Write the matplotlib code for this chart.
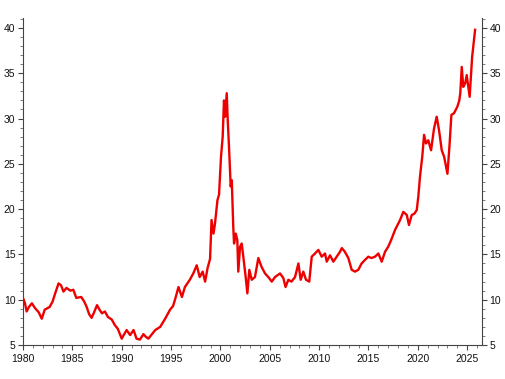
import matplotlib
matplotlib.use("Agg")
import matplotlib.pyplot as plt
from matplotlib.ticker import MultipleLocator

years = [1980.0, 1980.2, 1980.37, 1980.6, 1980.9, 1981.2, 1981.6, 1981.9, 1982.2, 1982.7,
         1983.0, 1983.2, 1983.6, 1983.85, 1984.1, 1984.4, 1984.8, 1985.1, 1985.4, 1985.9,
         1986.2, 1986.45, 1986.7, 1986.95, 1987.2, 1987.5, 1987.75, 1988.0, 1988.3, 1988.6,
         1989.0, 1989.3, 1989.6, 1990.0, 1990.2, 1990.5, 1990.85, 1991.2, 1991.5, 1991.85,
         1992.2, 1992.45, 1992.7, 1993.0, 1993.4, 1993.9, 1994.4, 1994.9, 1995.2, 1995.4,
         1995.75, 1996.1, 1996.4, 1996.9, 1997.25, 1997.6, 1997.9, 1998.2, 1998.45, 1998.7,
         1998.95, 1999.1, 1999.3, 1999.45, 1999.7, 1999.86, 2000.06, 2000.23, 2000.36, 2000.47,
         2000.64, 2000.74, 2000.87, 2001.04, 2001.15, 2001.3, 2001.38, 2001.55, 2001.71, 2001.81,
         2001.99, 2002.16, 2002.32, 2002.56, 2002.73, 2002.93, 2003.17, 2003.5, 2003.84, 2004.18,
         2004.52, 2004.85, 2005.2, 2005.53, 2006.04, 2006.37, 2006.6, 2006.88, 2007.2, 2007.56,
         2007.9, 2008.13, 2008.4, 2008.67, 2009.0, 2009.25, 2009.58, 2009.92, 2010.26, 2010.6,
         2010.77, 2011.1, 2011.44, 2011.78, 2012.12, 2012.3, 2012.6, 2012.96, 2013.3, 2013.64,
         2013.97, 2014.3, 2014.65, 2014.98, 2015.3, 2015.66, 2016.0, 2016.34, 2016.68, 2017.0,
         2017.3, 2017.69, 2018.2, 2018.53, 2018.88, 2019.1, 2019.38, 2019.65, 2019.89, 2020.05,
         2020.22, 2020.45, 2020.63, 2020.83, 2021.06, 2021.34, 2021.64, 2021.91, 2022.15, 2022.42,
         2022.66, 2022.86, 2023.0, 2023.2, 2023.4, 2023.67, 2024.0, 2024.2, 2024.3, 2024.45,
         2024.6, 2024.8, 2024.95, 2025.25, 2025.5, 2025.65, 2025.8]
values = [10.2, 9.6, 8.7, 9.2, 9.6, 9.1, 8.6, 7.9, 8.9, 9.2,
          9.8, 10.5, 11.8, 11.6, 10.9, 11.3, 11.0, 11.1, 10.2, 10.3,
          9.8, 9.2, 8.4, 8.0, 8.6, 9.4, 8.9, 8.5, 8.7, 8.1,
          7.8, 7.2, 6.8, 5.7, 6.1, 6.65, 6.1, 6.65, 5.7, 5.6,
          6.2, 5.9, 5.7, 6.1, 6.65, 7.0, 7.9, 8.9, 9.3, 10.0,
          11.4, 10.3, 11.4, 12.2, 12.9, 13.8, 12.5, 13.1, 12.0, 13.5,
          14.5, 18.8, 17.3, 18.4, 21.0, 21.6, 25.8, 28.0, 32.0, 30.2,
          32.8, 29.8, 26.9, 22.5, 23.2, 18.1, 16.2, 17.3, 16.6, 13.1,
          15.85, 16.2, 14.7, 12.5, 10.7, 13.3, 12.2, 12.5, 14.6, 13.6,
          12.9, 12.5, 12.0, 12.5, 12.9, 12.4, 11.4, 12.2, 12.0, 12.5,
          14.0, 12.2, 13.1, 12.2, 12.0, 14.75, 15.1, 15.5, 14.75, 15.1,
          14.2, 14.9, 14.2, 14.75, 15.3, 15.7, 15.3, 14.6, 13.3, 13.1,
          13.3, 14.0, 14.4, 14.75, 14.6, 14.75, 15.1, 14.2, 15.3, 15.85,
          16.6, 17.7, 18.8, 19.7, 19.35, 18.25, 19.35, 19.5, 19.9, 21.4,
          23.6, 25.8, 28.2, 27.25, 27.6, 26.5, 28.9, 30.2, 28.7, 26.5,
          25.8, 24.7, 23.9, 26.9, 30.4, 30.6, 31.3, 32.0, 32.8, 35.7,
          33.5, 33.9, 34.8, 32.4, 36.8, 38.3, 39.8]

x_major = [1980, 1985, 1990, 1995, 2000, 2005, 2010, 2015, 2020, 2025]
y_major = [5, 10, 15, 20, 25, 30, 35, 40]

plt.rcParams['font.family'] = ['Liberation Sans', 'DejaVu Sans']

fig = plt.figure(figsize=(5.05, 3.79), dpi=100)
ax = fig.add_axes([23/505, 1 - 345/379, (482 - 23)/505, (345 - 18)/379])

ax.plot(years, values, color='#ee0000', linewidth=1.7, solid_joinstyle='round')

ax.set_xlim(1980, 2026.5)
ax.set_ylim(5, 41.1)
ax.set_xticks(x_major)
ax.set_yticks(y_major)
ax.xaxis.set_minor_locator(MultipleLocator(1))
ax.yaxis.set_minor_locator(MultipleLocator(1))

for s in ['left', 'right', 'bottom']:
    ax.spines[s].set_color('#444444')
    ax.spines[s].set_linewidth(0.8)
ax.spines['top'].set_visible(False)

ax.tick_params(axis='both', which='major', direction='out', length=3.5, width=0.8,
               color='#444444', labelsize=7.5, labelcolor='#111111', pad=2)
ax.tick_params(axis='both', which='minor', direction='out', length=2, width=0.6,
               color='#666666')
ax.tick_params(axis='y', which='both', left=True, right=True, labelleft=True, labelright=True)
ax.tick_params(axis='x', which='major', pad=3)

fig.savefig('out.png', dpi=100)
